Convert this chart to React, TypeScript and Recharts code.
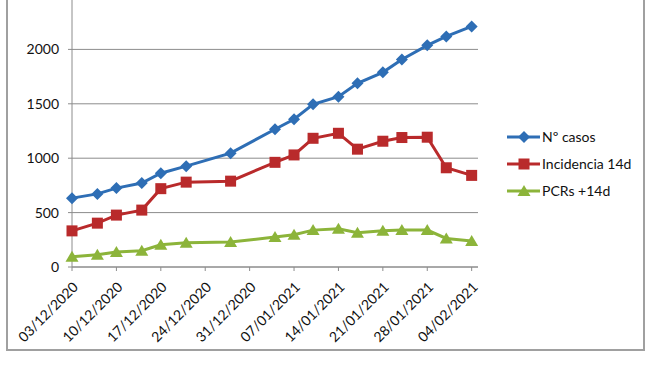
import React from 'react';
import { LineChart, Line, XAxis, YAxis, CartesianGrid } from 'recharts';

// report dates (dd/mm/yyyy)
const dates = [
  '03/12/2020', '07/12/2020', '10/12/2020', '14/12/2020', '17/12/2020', '21/12/2020',
  '28/12/2020', '04/01/2021', '07/01/2021', '10/01/2021', '14/01/2021', '17/01/2021',
  '21/01/2021', '24/01/2021', '28/01/2021', '31/01/2021', '04/02/2021',
];
const casos = [633, 672, 725, 772, 862, 927, 1046, 1266, 1358, 1495, 1565, 1688, 1789, 1908, 2037, 2119, 2211];
const incidencia = [332, 403, 477, 523, 720, 780, 789, 962, 1030, 1183, 1229, 1083, 1156, 1190, 1193, 912, 842];
const pcrs = [95, 112, 138, 150, 205, 222, 229, 275, 297, 339, 352, 315, 333, 340, 340, 262, 238];

const tickLabels = [
  '03/12/2020', '10/12/2020', '17/12/2020', '24/12/2020', '31/12/2020',
  '07/01/2021', '14/01/2021', '21/01/2021', '28/01/2021', '04/02/2021',
];
const yTicks = [0, 500, 1000, 1500, 2000, 2500];

const BLUE = '#2e6eb5';
const RED = '#b92a2b';
const GREEN = '#8cb43a';
const FONT = 'Lato, "Open Sans", sans-serif';

const toDay = (s: string) => {
  const [d, m, y] = s.split('/').map(Number);
  return Math.round((Date.UTC(y, m - 1, d) - Date.UTC(2020, 11, 3)) / 86400000);
};

const tickDays = tickLabels.map(toDay);

const chartData = dates.map((d, i) => ({
  day: toDay(d),
  casos: casos[i],
  incidencia: incidencia[i],
  pcrs: pcrs[i],
}));

const Diamond = ({ cx, cy, fill }: any) => (
  <polygon points={`${cx},${cy - 6} ${cx + 6},${cy} ${cx},${cy + 6} ${cx - 6},${cy}`} fill={fill} />
);
const Square = ({ cx, cy, fill }: any) => (
  <rect x={cx - 5.5} y={cy - 5.5} width={11} height={11} fill={fill} />
);
const Triangle = ({ cx, cy, fill }: any) => (
  <polygon points={`${cx},${cy - 6} ${cx + 6.5},${cy + 5} ${cx - 6.5},${cy + 5}`} fill={fill} />
);

const series = [
  { key: 'casos', name: 'Nº casos', color: BLUE, Shape: Diamond },
  { key: 'incidencia', name: 'Incidencia 14d', color: RED, Shape: Square },
  { key: 'pcrs', name: 'PCRs +14d', color: GREEN, Shape: Triangle },
];

const CustomLegend = () => (
  <div style={{ fontFamily: FONT, fontSize: 14, color: '#111' }}>
    {series.map((s) => (
      <div key={s.key} style={{ display: 'flex', alignItems: 'center', height: 27 }}>
        <svg width={34} height={14}>
          <line x1={0} y1={7} x2={33} y2={7} stroke={s.color} strokeWidth={3} />
          <s.Shape cx={17} cy={7} fill={s.color} />
        </svg>
        <span style={{ marginLeft: 1 }}>{s.name}</span>
      </div>
    ))}
  </div>
);

export default function App() {
  return (
    <div
      style={{
        position: 'fixed',
        left: 0,
        top: 0,
        width: 650,
        height: 365,
        overflow: 'hidden',
        background: '#fff',
      }}
    >
      {/* outer chart frame */}
      <div
        style={{
          position: 'absolute',
          left: 6,
          top: -10,
          width: 635,
          height: 357,
          border: '2px solid #a0a0a0',
        }}
      />
      <div style={{ position: 'absolute', left: 0, top: -20 }}>
        <LineChart
          width={650}
          height={385}
          data={chartData}
          margin={{ top: 15, right: 172, bottom: 0, left: 0 }}
        >
          <CartesianGrid horizontal vertical={false} stroke="#8c8c8c" strokeWidth={1} />
          <XAxis
            type="number"
            dataKey="day"
            domain={[0, 64]}
            ticks={tickDays}
            tickFormatter={(v: number) => tickLabels[tickDays.indexOf(v)] ?? ''}
            interval={0}
            height={98}
            angle={-45}
            textAnchor="end"
            tickSize={4}
            tickMargin={10}
            stroke="#8c8c8c"
            tick={{ fill: '#111', fontSize: 14, fontFamily: FONT }}
          />
          <YAxis
            domain={[0, 2500]}
            ticks={yTicks}
            width={72}
            tickSize={4}
            tickMargin={9}
            stroke="#8c8c8c"
            tick={{ fill: '#111', fontSize: 14, fontFamily: FONT }}
          />
          {series.map((s) => (
            <Line
              key={s.key}
              type="linear"
              dataKey={s.key}
              name={s.name}
              stroke={s.color}
              strokeWidth={3}
              dot={(p: any) => <s.Shape key={`${s.key}-${p.index}`} cx={p.cx} cy={p.cy} fill={s.color} />}
              isAnimationActive={false}
            />
          ))}
        </LineChart>
      </div>
      <div style={{ position: 'absolute', left: 507, top: 123 }}>
        <CustomLegend />
      </div>
    </div>
  );
}
